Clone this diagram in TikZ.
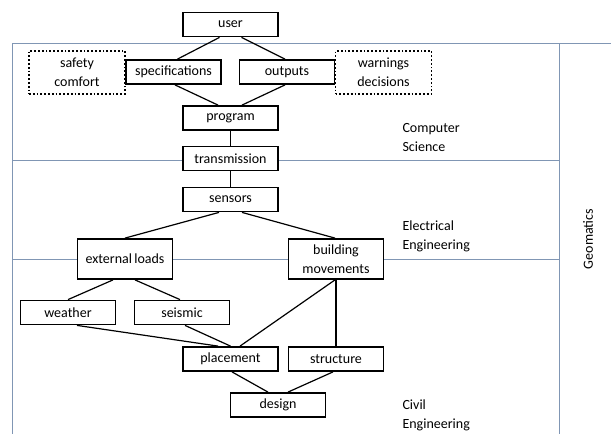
\documentclass[tikz,border=0pt]{standalone}
\usepackage{fontspec}
\setmainfont{Carlito}
\usetikzlibrary{positioning}
\definecolor{zoneblue}{RGB}{128,150,180}

\begin{document}
\begin{tikzpicture}[x=1pt,y=-1pt,
		block/.style={
			draw,
			rectangle,
			fill=white,
			line width=1.8pt,
			minimum width=95pt,
			minimum height=24pt,
			align=center,
			font=\fontsize{14}{19}\selectfont
		},
		note/.style={block, dotted, minimum width=96pt, minimum height=43pt},
		tall/.style={block, minimum height=40pt},
		field/.style={anchor=west, align=left, font=\fontsize{14}{19}\selectfont},
		zone/.style={draw=zoneblue, line width=0.8pt},
		link/.style={line width=1.2pt}]
		\useasboundingbox (0,0) rectangle (611,434);
		
		% discipline frame
		\draw[zone] (12,434) -- (12,43) -- (611,43);
		\draw[zone] (559,43) -- (559,434);
		\draw[zone] (12,160) -- (559,160);
		\draw[zone] (12,259) -- (559,259);
		
		\node[block] (user) at (230.5,24.5) {user};
		\node[note] (safety) at (77,72.5) {safety\\comfort};
		\node[block] (spec) at (173.5,72) {specifications};
		\node[block] (outputs) at (287,72) {outputs};
		\node[note] (warnings) at (383.5,72.5) {warnings\\decisions};
		\node[block] (program) at (230.5,118) {program};
		\node[block] (trans) at (230.5,158.5) {transmission};
		\node[block] (sensors) at (230.5,199.5) {sensors};
		\node[tall] (loads) at (125,259) {external\,loads};
		\node[tall] (moves) at (336,259) {building\\movements};
		\node[block] (weather) at (68,312.5) {weather};
		\node[block] (seismic) at (182,312.5) {seismic};
		\node[block] (placement) at (230.5,359) {placement};
		\node[block] (structure) at (336,359) {structure};
		\node[block] (design) at (278,405) {design};
		
		\node[field] (cs) at (399,138) {Computer\\Science};
		\node[field] (ee) at (399,236) {Electrical\\Engineering};
		\node[field] (ce) at (399,415) {Civil\\Engineering};
		\node[rotate=90, font=\fontsize{14}{19}\selectfont] (geo) at (588,239) {Geomatics};
		
		\draw[link] ([xshift=-11pt]user.south) -- ([xshift=4pt]spec.north);
		\draw[link] ([xshift=11pt]user.south) -- ([xshift=-2pt]outputs.north);
		\draw[link] ([xshift=1.5pt]spec.south) -- ([xshift=-12.5pt]program.north);
		\draw[link] ([xshift=-2pt]outputs.south) -- ([xshift=11.5pt]program.north);
		\draw[link] (program) -- (trans);
		\draw[link] (trans) -- (sensors);
		
		\draw[link] ([xshift=-11.5pt]sensors.south) -- (loads.north);
		\draw[link] ([xshift=11.5pt]sensors.south) -- ([xshift=-1pt]moves.north);
		\draw[link] ([xshift=-12pt]loads.south) -- (weather.north);
		\draw[link] ([xshift=10pt]loads.south) -- ([xshift=-2pt]seismic.north);
		
		\draw[link] ([xshift=9pt]weather.south) -- ([xshift=-12.5pt]placement.north);
		\draw[link] ([xshift=3pt]seismic.south) -- (placement.north);
		\draw[link] ([xshift=-1pt]moves.south) -- ([xshift=9.5pt]placement.north);
		\draw[link] (moves) -- (structure);
		\draw[link] ([xshift=1.5pt]placement.south) -- ([xshift=-10pt]design.north);
		\draw[link] ([xshift=-3pt]structure.south) -- ([xshift=10pt]design.north);
	\end{tikzpicture}
\end{document}
